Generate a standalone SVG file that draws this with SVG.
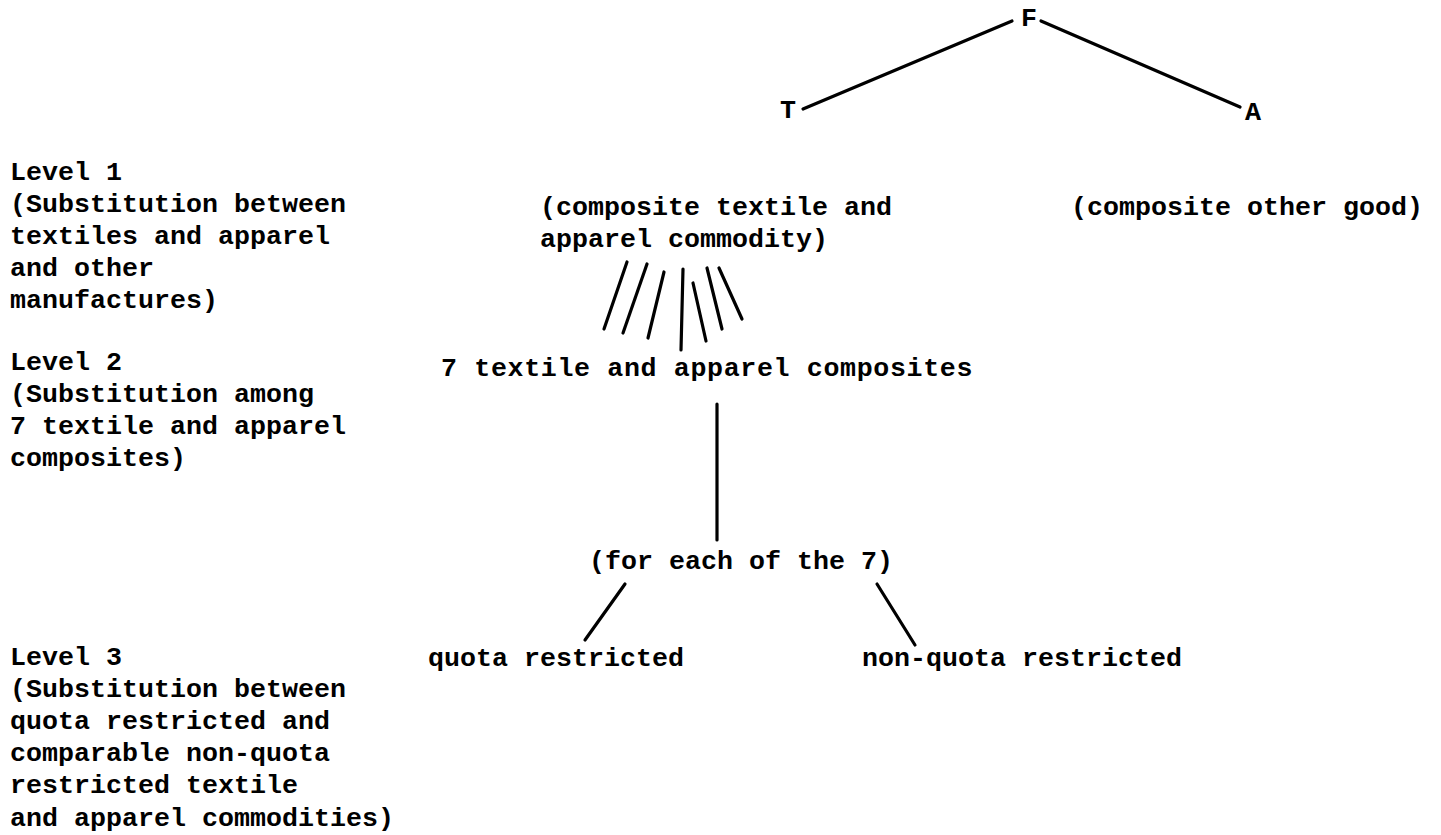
<svg xmlns="http://www.w3.org/2000/svg" width="1441" height="835" viewBox="0 0 1441 835">
<style>
text{font-family:"Liberation Mono","Courier New",monospace;font-weight:bold;font-size:26.67px;fill:#000}
.c line{stroke:#000;stroke-width:3.2;stroke-linecap:round}
</style>
<rect width="1441" height="835" fill="#fff"/>
<g id="F"><text x="1021" y="26">F</text></g>
<g id="T"><text x="780" y="118">T</text></g>
<g id="A"><text x="1245" y="120">A</text></g>
<g id="level1"><text x="10" y="180">Level 1</text><text x="10" y="212">(Substitution between</text><text x="10" y="244">textiles and apparel</text><text x="10" y="276">and other</text><text x="10" y="308">manufactures)</text></g>
<g id="level2"><text x="10" y="370">Level 2</text><text x="10" y="402">(Substitution among</text><text x="10" y="434">7 textile and apparel</text><text x="10" y="466">composites)</text></g>
<g id="level3"><text x="10" y="665">Level 3</text><text x="10" y="697">(Substitution between</text><text x="10" y="729">quota restricted and</text><text x="10" y="761">comparable non-quota</text><text x="10" y="793">restricted textile</text><text x="10" y="826">and apparel commodities)</text></g>
<g id="compositeTA"><text x="540" y="215">(composite textile and</text><text x="540" y="247">apparel commodity)</text></g>
<g id="compositeOther"><text x="1071" y="215">(composite other good)</text></g>
<g id="seven"><text x="441" y="376" letter-spacing="0.63">7 textile and apparel composites</text></g>
<g id="foreach"><text x="589" y="569">(for each of the 7)</text></g>
<g id="quota"><text x="428" y="666">quota restricted</text></g>
<g id="nonquota"><text x="862" y="666">non-quota restricted</text></g>
<g class="c" id="connectors">
<line x1="1012" y1="21" x2="803" y2="109"/>
<line x1="1041" y1="21" x2="1240" y2="107"/>
<line x1="627" y1="262" x2="604" y2="329"/>
<line x1="647" y1="264" x2="623" y2="333"/>
<line x1="664" y1="272" x2="648" y2="338"/>
<line x1="683" y1="269" x2="681" y2="350"/>
<line x1="693" y1="283" x2="706" y2="341"/>
<line x1="707" y1="268" x2="722" y2="329"/>
<line x1="719" y1="268" x2="742" y2="319"/>
<line x1="717" y1="404" x2="717" y2="540"/>
<line x1="625" y1="584" x2="585" y2="640"/>
<line x1="877" y1="584" x2="915" y2="645"/>
</g>
</svg>
